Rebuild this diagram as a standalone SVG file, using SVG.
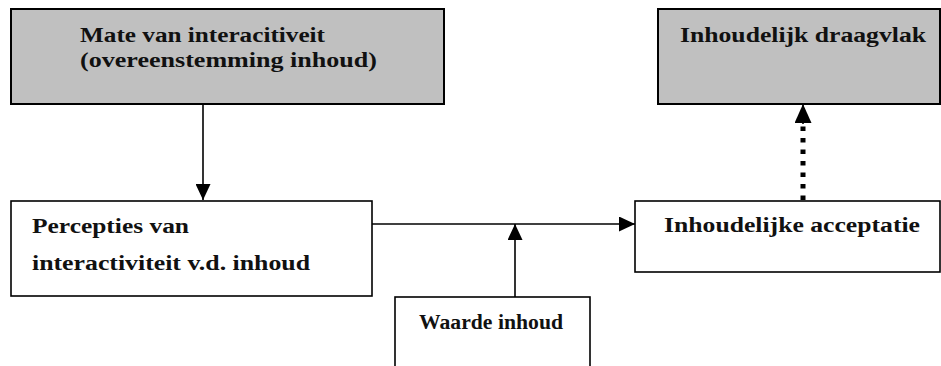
<svg xmlns="http://www.w3.org/2000/svg" width="941" height="366" viewBox="0 0 941 366">
  <style>
    .grey { fill: #c0c0c0; stroke: #000; stroke-width: 2; }
    .plain { fill: #fff; stroke: #000; stroke-width: 1.6; }
    .lbl { font-family: "Liberation Serif", "DejaVu Serif", serif; font-weight: bold; font-size: 20px; fill: #111; }
    .link { stroke: #000; stroke-width: 1.6; fill: none; }
    .dotted { stroke: #000; stroke-width: 5; stroke-dasharray: 4.5 7; fill: none; }
  </style>
  <defs>
    <marker id="head" markerWidth="16" markerHeight="15" refX="16" refY="7.5" orient="auto" markerUnits="userSpaceOnUse">
      <path d="M0,0 L16,7.5 L0,15 Z" fill="#000"/>
    </marker>
    <marker id="headBig" markerWidth="19" markerHeight="17" refX="19" refY="8.5" orient="auto" markerUnits="userSpaceOnUse">
      <path d="M0,0 L19,8.5 L0,17 Z" fill="#000"/>
    </marker>
  </defs>
  <rect width="941" height="366" fill="#fff"/>

  <g id="connectors">
    <line class="link" x1="203" y1="104" x2="203" y2="200" marker-end="url(#head)"/>
    <line class="link" x1="372" y1="224" x2="635" y2="224" marker-end="url(#head)"/>
    <line class="link" x1="515" y1="297" x2="515" y2="224" marker-end="url(#head)"/>
    <line class="dotted" x1="803" y1="200" x2="803" y2="123"/>
    <line class="link" x1="803" y1="124" x2="803" y2="104" marker-end="url(#headBig)"/>
  </g>

  <g id="mate">
    <rect class="grey" x="11" y="9" width="433" height="95"/>
    <text class="lbl" x="80" y="42" textLength="245" lengthAdjust="spacingAndGlyphs">Mate van interacitiveit</text>
    <text class="lbl" x="80" y="67" textLength="297" lengthAdjust="spacingAndGlyphs">(overeenstemming inhoud)</text>
  </g>

  <g id="draagvlak">
    <rect class="grey" x="658" y="9" width="282" height="95"/>
    <text class="lbl" x="680" y="42" textLength="246" lengthAdjust="spacingAndGlyphs">Inhoudelijk draagvlak</text>
  </g>

  <g id="percepties">
    <rect class="plain" x="11" y="201" width="361" height="95"/>
    <text class="lbl" x="32" y="233" textLength="157" lengthAdjust="spacingAndGlyphs">Percepties van</text>
    <text class="lbl" x="32" y="270" textLength="278" lengthAdjust="spacingAndGlyphs">interactiviteit v.d. inhoud</text>
  </g>

  <g id="acceptatie">
    <rect class="plain" x="635" y="201" width="305" height="71"/>
    <text class="lbl" x="664" y="232" textLength="256" lengthAdjust="spacingAndGlyphs">Inhoudelijke acceptatie</text>
  </g>

  <g id="waarde">
    <rect class="plain" x="395" y="297" width="195" height="80"/>
    <text class="lbl" x="419" y="329" textLength="144" lengthAdjust="spacingAndGlyphs">Waarde inhoud</text>
  </g>
</svg>
